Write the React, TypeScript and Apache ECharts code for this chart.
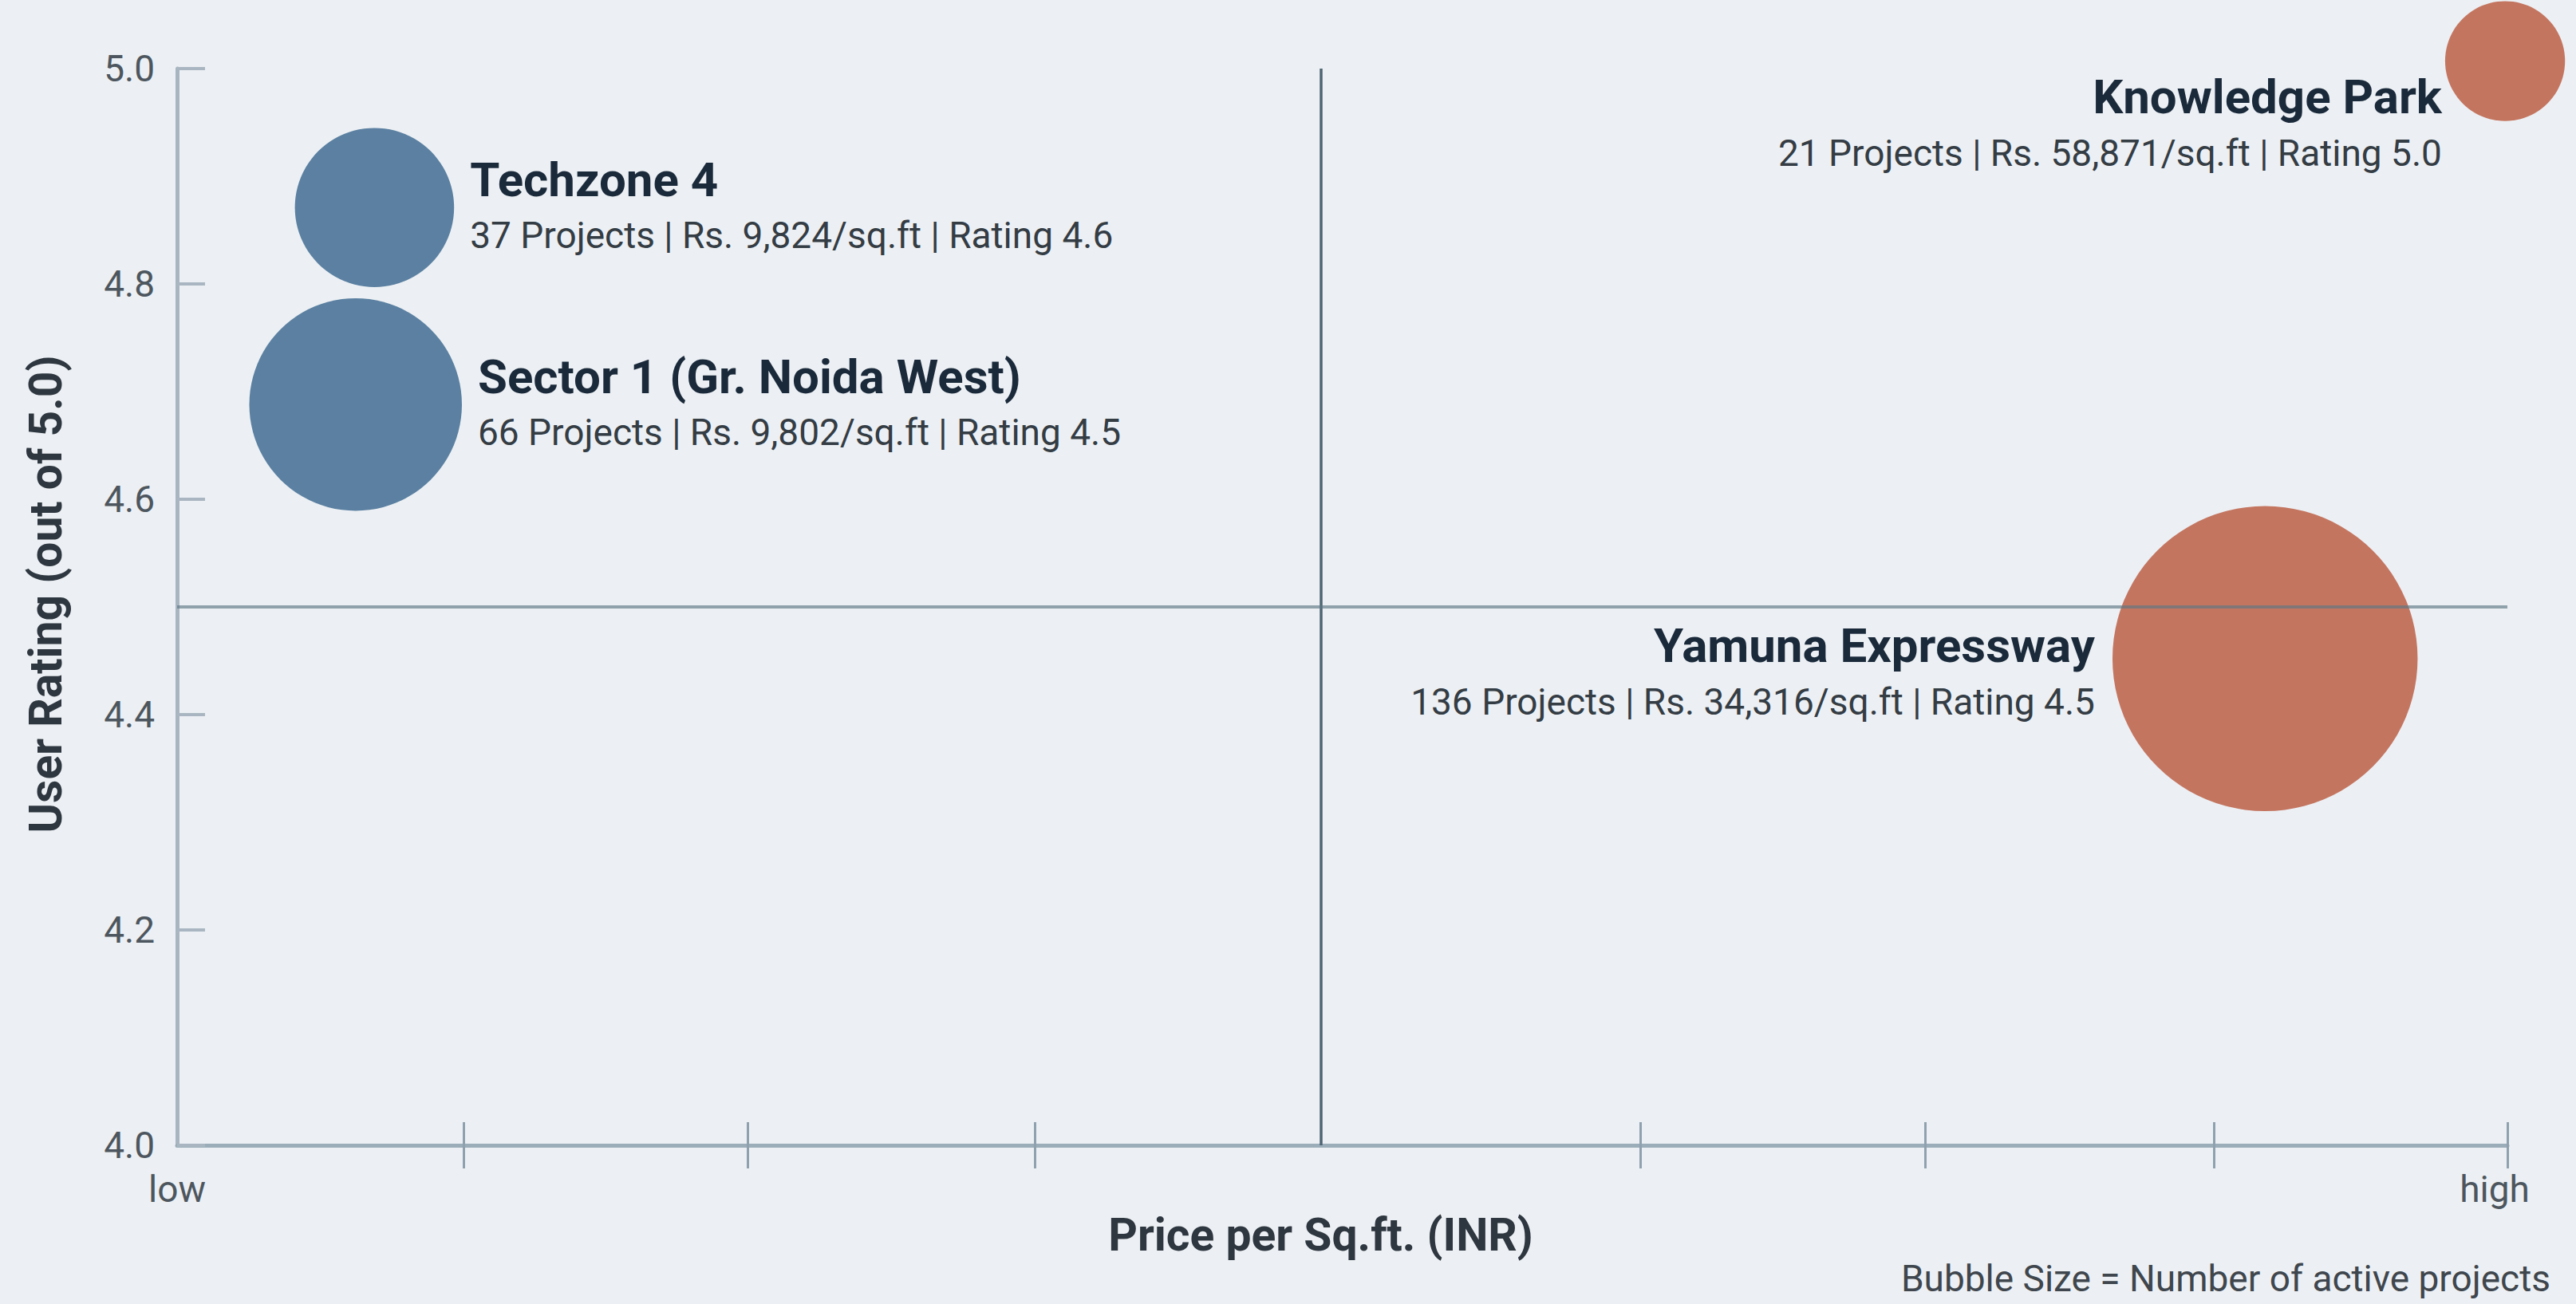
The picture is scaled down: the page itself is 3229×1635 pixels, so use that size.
import React, { useEffect, useRef } from 'react';
import * as echarts from 'echarts';

// ---- data ----
const locations = ['Techzone 4', 'Sector 1 (Gr. Noida West)', 'Yamuna Expressway', 'Knowledge Park'];
const activeProjects = [37, 66, 136, 21];
const pricePerSqft = [9824, 9802, 34316, 58871];
const userRatings = [4.6, 4.5, 4.5, 5.0];
const segments = ['low', 'low', 'high', 'high'];
// plotted positions (x on a 0–100 "low → high" price scale, y on the rating axis)
const plottedX = [8.47, 7.66, 89.6, 99.9];
const plottedY = [4.871, 4.688, 4.452, 5.007];
// axis ticks / quadrant dividers
const xTickValues = [12.3, 24.5, 36.8, 62.8, 75.0, 87.4, 100];
const xEndLabels = ['low', 'high'];
const quadrantX = 49.1;
const quadrantY = 4.5;

const FONT = 'Roboto';

const fmtNum = (n: number) => String(n).replace(/\B(?=(\d{3})+(?!\d))/g, ',');

const segColor: Record<string, string> = { low: '#5b80a1', high: '#c47560' };
const labelPlacement = [
  { position: 'right', distance: 20, offset: [0, 0] },
  { position: 'right', distance: 20, offset: [0, 0] },
  { position: 'left', distance: 22, offset: [0, 19] },
  { position: 'left', distance: 4, offset: [0, 80] },
];

export default function App() {
  const ref = useRef<HTMLDivElement>(null);
  useEffect(() => {
    const chart = echarts.init(ref.current!, null, { renderer: 'svg' });
    const data = locations.map((name, i) => ({
      name,
      value: [plottedX[i], plottedY[i], activeProjects[i], pricePerSqft[i], userRatings[i]],
      itemStyle: { color: segColor[segments[i]] },
      label: {
        show: true,
        position: labelPlacement[i].position,
        distance: labelPlacement[i].distance,
        offset: labelPlacement[i].offset,
        formatter: () =>
          `{n|${name}}\n{s|${activeProjects[i]} Projects | Rs. ${fmtNum(pricePerSqft[i])}/sq.ft | Rating ${userRatings[i].toFixed(1)}}`,
        rich: {
          n: { fontFamily: FONT, fontSize: 60, fontWeight: 700, color: '#1b2a3b', lineHeight: 70 },
          s: { fontFamily: FONT, fontSize: 46, color: '#343c44', lineHeight: 70 },
        },
      },
    }));

    const option: any = {
      animation: false,
      backgroundColor: '#ecf0f4',
      textStyle: { fontFamily: FONT },
      grid: { left: 222, right: 86, top: 86, bottom: 199, containLabel: false },
      xAxis: [
        {
          type: 'value',
          min: 0,
          max: 100,
          position: 'bottom',
          name: 'Price per Sq.ft. (INR)',
          nameLocation: 'middle',
          nameGap: 84,
          nameTextStyle: { fontFamily: FONT, fontSize: 57, fontWeight: 700, color: '#2e363f', padding: [0, 54, 0, 0] },
          axisLine: { show: true, lineStyle: { color: '#9cadba', width: 5 } },
          axisTick: { show: true, inside: true, length: 29, customValues: xTickValues, lineStyle: { color: '#8fa1af', width: 3 } },
          axisLabel: {
            show: true,
            customValues: [0, 100],
            margin: 32,
            fontFamily: FONT,
            fontSize: 46,
            color: '#4d565e',
            formatter: (v: number) => (v === 0 ? `{l|${xEndLabels[0]}}` : `{h|${xEndLabels[1]}}`),
            rich: {
              l: { fontFamily: FONT, fontSize: 46, color: '#4d565e' },
              h: { fontFamily: FONT, fontSize: 46, color: '#4d565e', padding: [0, 32, 0, 0] },
            },
          },
          splitLine: { show: false },
        },
        {
          type: 'value',
          min: 0,
          max: 100,
          position: 'bottom',
          axisLine: { show: false },
          axisTick: { show: true, inside: false, length: 29, customValues: xTickValues, lineStyle: { color: '#8fa1af', width: 3 } },
          axisLabel: { show: false },
          splitLine: { show: false },
        },
      ],
      yAxis: {
        type: 'value',
        min: 4.0,
        max: 5.0,
        interval: 0.2,
        name: 'User Rating (out of 5.0)',
        nameLocation: 'middle',
        nameRotate: 90,
        nameGap: 136,
        nameTextStyle: { fontFamily: FONT, fontSize: 57, fontWeight: 700, color: '#2e363f', padding: [0, 0, 0, 32] },
        axisLine: { show: true, lineStyle: { color: '#a7b5c1', width: 5 } },
        axisTick: { show: true, inside: true, length: 35, lineStyle: { color: '#a9b6c1', width: 4 } },
        axisLabel: { fontFamily: FONT, fontSize: 46, color: '#4d565e', margin: 28, formatter: (v: number) => v.toFixed(1) },
        splitLine: { show: false },
      },
      series: [
        {
          type: 'scatter',
          name: 'Micro-markets',
          z: 2,
          clip: false,
          symbol: 'circle',
          symbolSize: (val: number[]) => 32.8 * Math.sqrt(val[2]),
          itemStyle: { opacity: 1 },
          data,
        },
        {
          type: 'scatter',
          name: 'quadrants',
          z: 3,
          data: [],
          silent: true,
          markLine: {
            silent: true,
            symbol: 'none',
            animation: false,
            label: { show: false },
            data: [
              { xAxis: quadrantX, lineStyle: { type: 'solid', color: '#4f6572', width: 3.5, opacity: 1 } },
              { yAxis: quadrantY, lineStyle: { type: 'solid', color: '#5d7684', width: 4, opacity: 0.65 } },
            ],
          },
        },
      ],
      graphic: [
        {
          type: 'text',
          right: 32,
          top: 1580,
          style: { text: 'Bubble Size = Number of active projects', fontFamily: FONT, fontSize: 46, fill: '#3f464d', textAlign: 'right' },
        },
      ],
    };
    chart.setOption(option);
    return () => chart.dispose();
  }, []);
  return <div ref={ref} style={{ position: 'fixed', left: 0, top: 0, width: '100vw', height: '100vh' }} />;
}
